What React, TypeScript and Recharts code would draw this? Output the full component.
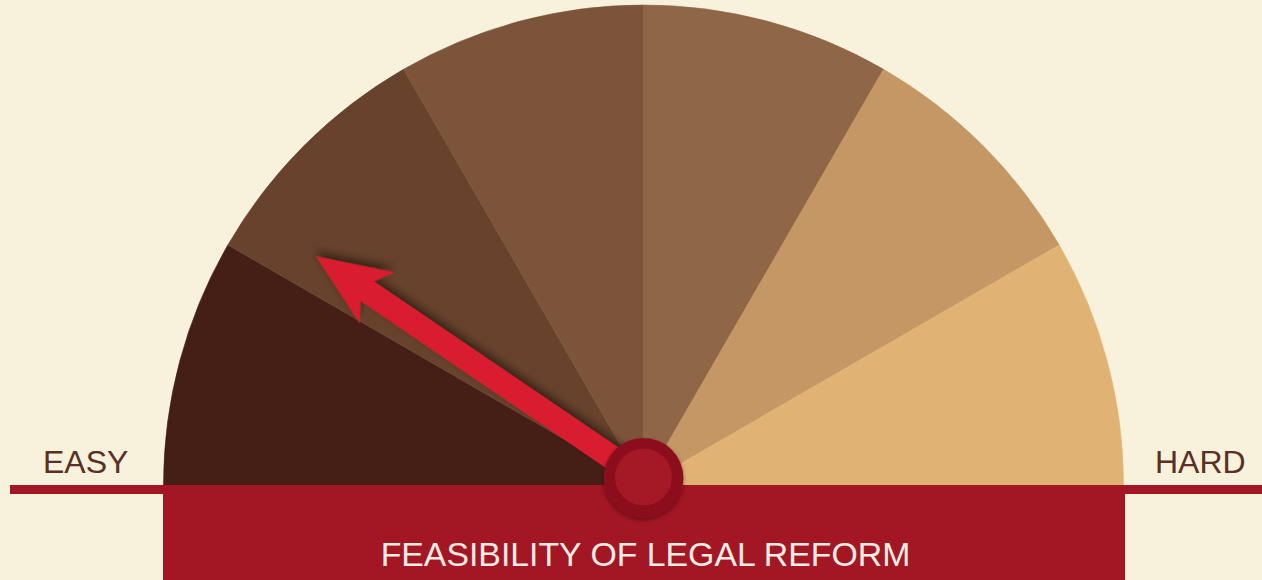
import React from "react";
import { PieChart, Pie, Cell } from "recharts";

const segmentNames = ["Very easy", "Easy", "Somewhat easy", "Somewhat hard", "Hard", "Very hard"];
const segmentValues = [1, 1, 1, 1, 1, 1];
const segmentColors = ["#451f16", "#68422c", "#7c5439", "#8f6746", "#c49764", "#e0b374"];
const needleValue = 19; // on a 0-100 scale, 0 = easy, 100 = hard
const scaleMax = 100;
const leftLabel = "EASY";
const rightLabel = "HARD";
const title = "FEASIBILITY OF LEGAL REFORM";

const data = segmentNames.map((name, i) => ({ name, value: segmentValues[i] }));

const W = 1262;
const H = 580;
const CX = 643.5;
const CY = 485;
const R = 480;

const Overlay = () => {
  const angle = Math.PI * (1 - needleValue / scaleMax);
  const len = 396;
  const deg = (-angle * 180) / Math.PI;
  return (
    <svg
      width={W}
      height={H}
      style={{ position: "absolute", left: 0, top: 0, pointerEvents: "none" }}
    >
      <defs>
        <filter id="nshadow" x="-20%" y="-50%" width="140%" height="200%">
          <feDropShadow dx="3" dy="4" stdDeviation="4" floodColor="#000" floodOpacity="0.5" />
        </filter>
        <filter id="kshadow" x="-30%" y="-30%" width="160%" height="160%">
          <feDropShadow dx="0" dy="2" stdDeviation="2" floodColor="#000" floodOpacity="0.4" />
        </filter>
      </defs>
      <rect x={10} y={485} width={W - 10} height={9} fill="#a31624" />
      <rect x={163} y={485} width={962} height={H - 485} fill="#a31624" />
      <g transform={`translate(${CX},${CY - 6}) rotate(${deg})`} filter="url(#nshadow)">
        <polygon
          points={`0,-12 ${len - 62},-12 ${len - 74},-31 ${len},0 ${len - 74},31 ${len - 62},12 0,12`}
          fill="#d91e2f"
        />
      </g>
      <circle cx={CX} cy={478} r={40} fill="#8c0e1b" filter="url(#kshadow)" />
      <circle cx={CX} cy={477} r={28.5} fill="#a51826" />
      <text x={43} y={473} fontFamily="'Liberation Sans', Arial, sans-serif" fontSize={32} fill="#5a3024">
        {leftLabel}
      </text>
      <text x={1155} y={473} fontFamily="'Liberation Sans', Arial, sans-serif" fontSize={32} fill="#5a3024">
        {rightLabel}
      </text>
      <text
        x={645.5}
        y={566}
        textAnchor="middle"
        fontFamily="'Liberation Sans', Arial, sans-serif"
        fontSize={33.8}
        fill="#f7ece4"
      >
        {title}
      </text>
    </svg>
  );
};

export default function App() {
  return (
    <div
      style={{
        position: "absolute",
        left: 0,
        top: 0,
        width: W,
        height: H,
        background: "#f8f1dc",
        overflow: "hidden",
      }}
    >
      <PieChart width={W} height={H} margin={{ top: 0, right: 0, bottom: 0, left: 0 }}>
        <Pie
          data={data}
          dataKey="value"
          nameKey="name"
          cx={CX}
          cy={CY}
          startAngle={180}
          endAngle={0}
          innerRadius={0}
          outerRadius={R}
          isAnimationActive={false}
        >
          {data.map((d, i) => (
            <Cell key={d.name} fill={segmentColors[i]} stroke={segmentColors[i]} strokeWidth={0.6} />
          ))}
        </Pie>
      </PieChart>
      <Overlay />
    </div>
  );
}
